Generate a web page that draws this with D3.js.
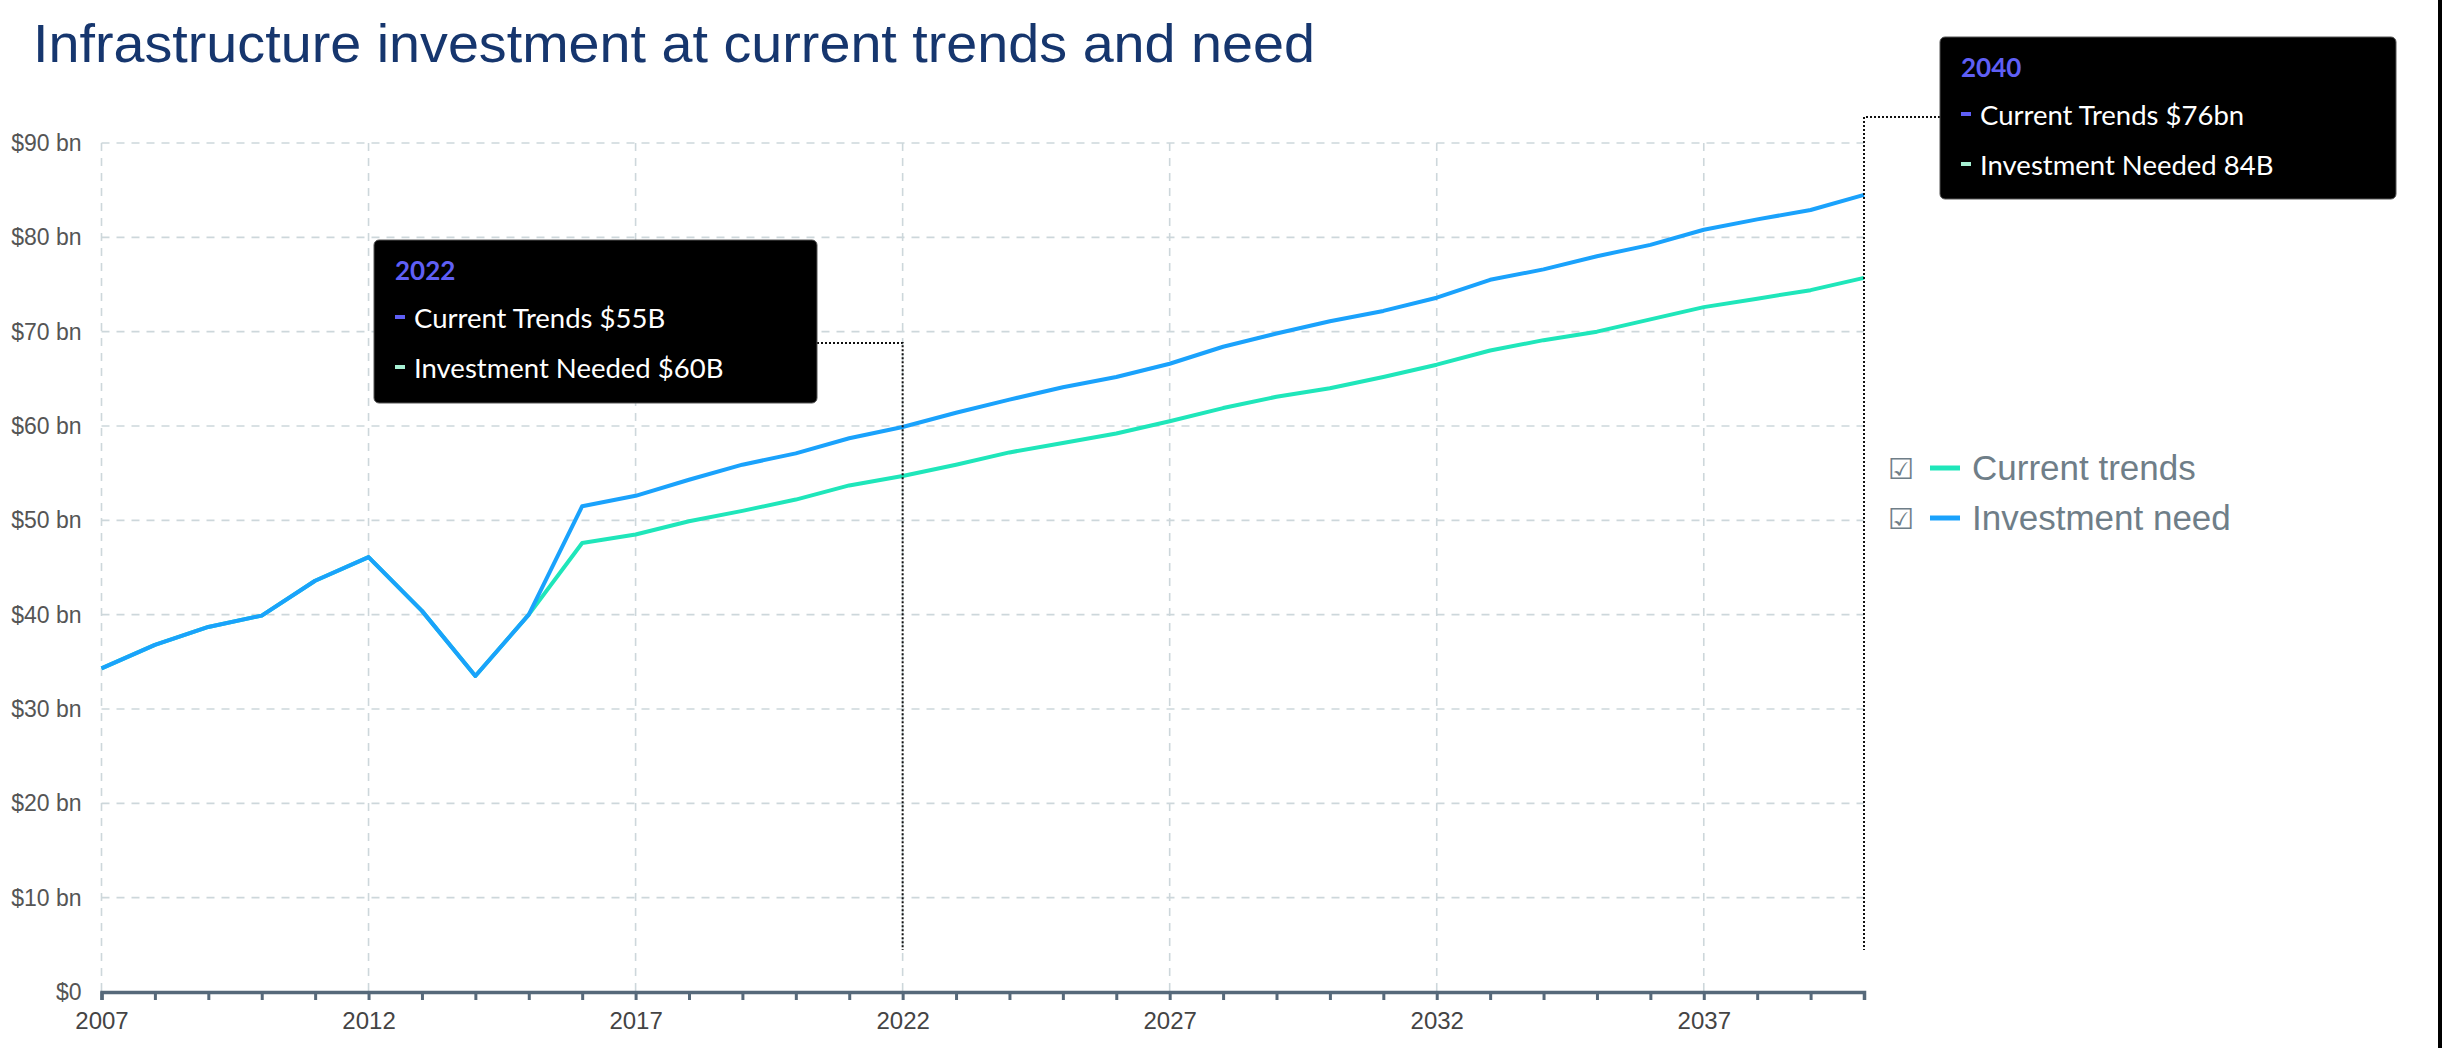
<!DOCTYPE html>
<html>
<head>
<meta charset="utf-8">
<script src="https://cdn.jsdelivr.net/npm/d3@7"></script>
<style>
  body { margin: 0; background: #fff; }
  svg { display: block; }
</style>
</head>
<body>
<svg class="chart" width="2442" height="1048"></svg>
<script>
// data
const years = d3.range(2007, 2041);
const currentTrends = [34.3, 36.8, 38.7, 39.9, 43.6, 46.1, 40.4, 33.5, 40.0, 47.6,
  48.5, 49.9, 51.0, 52.2, 53.7, 54.7, 55.9, 57.2, 58.2, 59.2,
  60.5, 61.9, 63.1, 64.0, 65.2, 66.5, 68.0, 69.1, 70.0, 71.3,
  72.6, 73.5, 74.4, 75.7];
const investmentNeed = [34.3, 36.8, 38.7, 39.9, 43.6, 46.1, 40.4, 33.5, 40.0, 51.5,
  52.6, 54.3, 55.9, 57.1, 58.7, 59.9, 61.4, 62.8, 64.1, 65.2,
  66.6, 68.4, 69.8, 71.1, 72.2, 73.6, 75.5, 76.6, 78.0, 79.2,
  80.8, 81.9, 82.9, 84.5];
const yTicks = [0, 10, 20, 30, 40, 50, 60, 70, 80, 90];
const xLabelYears = [2007, 2012, 2017, 2022, 2027, 2032, 2037];
const legendLabels = ["Current trends", "Investment need"];
const tipYears = [2022, 2040];
const tipLines = [
  ["Current Trends $55B", "Investment Needed $60B"],
  ["Current Trends $76bn", "Investment Needed 84B"]
];

(function(){
  var svg = d3.select("svg.chart"),
      width = +svg.attr("width"),
      height = +svg.attr("height");

  const colGreen = "#1fe6ba", colBlue = "#1aa2fc";
  const gridCol = "#cdd7db";

  var x = d3.scaleLinear().domain([2007, 2040]).range([101.5, 1864]);
  var y = d3.scaleLinear().domain([0, 90]).range([992, 143]);

  svg.append("rect").attr("width", width).attr("height", height).attr("fill", "#fff");

  // title
  svg.append("text")
    .attr("x", 33).attr("y", 62)
    .attr("font-family", "Liberation Sans, Arial, sans-serif")
    .attr("font-size", 54)
    .attr("fill", "#16366e")
    .attr("textLength", 1282)
    .attr("lengthAdjust", "spacingAndGlyphs")
    .text("Infrastructure investment at current trends and need");

  // grid
  var grid = svg.append("g").attr("id", "grid");
  grid.selectAll("line.h")
    .data(yTicks.filter(d => d > 0))
    .enter().append("line")
    .attr("class", "h")
    .attr("x1", x(2007)).attr("x2", x(2040))
    .attr("y1", d => y(d)).attr("y2", d => y(d))
    .attr("stroke", gridCol).attr("stroke-width", 1.6)
    .attr("stroke-dasharray", "8,7");
  grid.selectAll("line.v")
    .data(xLabelYears)
    .enter().append("line")
    .attr("class", "v")
    .attr("x1", d => x(d)).attr("x2", d => x(d))
    .attr("y1", y(90)).attr("y2", y(0))
    .attr("stroke", gridCol).attr("stroke-width", 1.6)
    .attr("stroke-dasharray", "8,7");

  // y labels
  var yAxis = svg.append("g")
    .attr("transform", `translate(${x(2007)},0)`)
    .call(d3.axisLeft(y).tickValues(yTicks).tickSize(0).tickPadding(20)
      .tickFormat(d => d === 0 ? "$0" : `$${d} bn`));
  yAxis.select(".domain").remove();
  yAxis.selectAll("text")
    .attr("font-family", "Liberation Sans, Arial, sans-serif")
    .attr("font-size", 23)
    .attr("fill", "#555");

  // x axis
  var xAxis = svg.append("g")
    .attr("transform", `translate(0,${y(0)})`)
    .call(d3.axisBottom(x).tickValues(years).tickSize(8).tickSizeOuter(8).tickPadding(12)
      .tickFormat(d => xLabelYears.includes(d) ? d : ""));
  xAxis.select(".domain").attr("stroke", "#56697a").attr("stroke-width", 3.5);
  xAxis.selectAll(".tick line").attr("stroke", "#56697a").attr("stroke-width", 3);
  xAxis.selectAll("text")
    .attr("font-family", "Liberation Sans, Arial, sans-serif")
    .attr("font-size", 24)
    .attr("fill", "#444");

  // lines
  var line = d3.line()
    .x(function(d, i) { return x(years[i]); })
    .y(function(d) { return y(d); });

  svg.append("path")
    .datum(currentTrends)
    .attr("d", line)
    .attr("fill", "none")
    .attr("stroke", colGreen)
    .attr("stroke-width", 4)
    .attr("stroke-linejoin", "round");

  svg.append("path")
    .datum(investmentNeed)
    .attr("d", line)
    .attr("fill", "none")
    .attr("stroke", colBlue)
    .attr("stroke-width", 4)
    .attr("stroke-linejoin", "round");

  // tooltips with dotted leaders
  const boxes = [
    {x: 374, y: 240, w: 443, h: 163, ly: 343},
    {x: 1940, y: 37, w: 456, h: 162, ly: 117}
  ];

  tipYears.forEach(function(yr, i) {
    var b = boxes[i];
    var xv = x(yr);
    var leaderX = i === 0 ? b.x + b.w : b.x;
    svg.append("path")
      .attr("d", `M${leaderX},${b.ly} H${xv} V950`)
      .attr("fill", "none")
      .attr("stroke", "#111")
      .attr("stroke-width", 2)
      .attr("stroke-dasharray", "2,2");

    var g = svg.append("g").attr("transform", `translate(${b.x},${b.y})`);
    g.append("rect")
      .attr("width", b.w).attr("height", b.h)
      .attr("rx", 5)
      .attr("fill", "#000")
      .attr("stroke", "#555").attr("stroke-width", 1);
    g.append("text")
      .attr("x", 21).attr("y", 40)
      .attr("font-family", "Lato, Noto Sans, sans-serif")
      .attr("font-weight", "bold")
      .attr("font-size", 26)
      .attr("fill", "#5f5ff5")
      .text(yr);
    var markers = ["#5f5ff5", "#a6efd2"];
    tipLines[i].forEach(function(t, j) {
      var by = 88 + j * 50;
      g.append("rect")
        .attr("x", 21).attr("y", by - 13)
        .attr("width", 10).attr("height", 4)
        .attr("fill", markers[j]);
      g.append("text")
        .attr("x", 40).attr("y", by)
        .attr("font-family", "Lato, Noto Sans, sans-serif")
        .attr("font-size", 27.5)
        .attr("fill", "#fff")
        .text(t);
    });
  });

  // legend
  var legend = svg.append("g").attr("id", "legend");
  [colGreen, colBlue].forEach(function(c, i) {
    var cy = 468 + i * 50;
    legend.append("text")
      .attr("x", 1888).attr("y", cy + 11)
      .attr("font-family", "DejaVu Sans, sans-serif")
      .attr("font-size", 29)
      .attr("fill", "#6f7e88")
      .text("\u2611");
    legend.append("line")
      .attr("x1", 1930).attr("x2", 1960)
      .attr("y1", cy).attr("y2", cy)
      .attr("stroke", c).attr("stroke-width", 5);
    legend.append("text")
      .attr("x", 1972).attr("y", cy + 12)
      .attr("font-family", "Liberation Sans, Arial, sans-serif")
      .attr("font-size", 35)
      .attr("fill", "#6f7e88")
      .text(legendLabels[i]);
  });

  // right edge border
  svg.append("rect")
    .attr("x", width - 4).attr("y", 0)
    .attr("width", 4).attr("height", height)
    .attr("fill", "#000");
})();
</script>
</body>
</html>
